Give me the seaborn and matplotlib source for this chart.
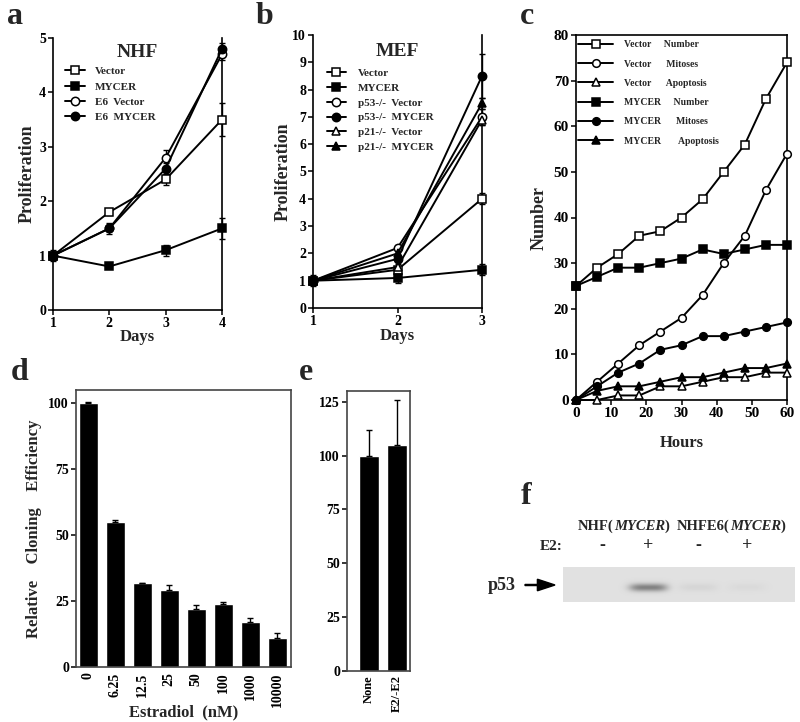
import matplotlib
matplotlib.use("Agg")
import matplotlib.pyplot as plt
import seaborn as sns
import numpy as np

# ---- panel a: NHF proliferation ----
days_a = [1, 2, 3, 4]
nhf_vector = [1.0, 1.8, 2.4, 3.5]
nhf_vector_err = [0.05, 0.05, 0.1, 0.3]
nhf_mycer = [1.0, 0.8, 1.1, 1.5]
nhf_mycer_err = [0.05, 0.03, 0.1, 0.2]
nhf_e6_vector = [1.0, 1.5, 2.8, 4.7]
nhf_e6_vector_err = [0.1, 0.1, 0.15, 0.1]
nhf_e6_mycer = [1.0, 1.5, 2.6, 4.8]
nhf_e6_mycer_err = [0.05, 0.05, 0.1, 0.1]

# ---- panel b: MEF proliferation ----
days_b = [1, 2, 3]
mef_vector = [1.0, 1.4, 4.0]
mef_vector_err = [0.1, 0.1, 0.2]
mef_mycer = [1.0, 1.1, 1.4]
mef_mycer_err = [0.2, 0.2, 0.2]
mef_p53_vector = [1.0, 2.2, 7.0]
mef_p53_vector_err = [0.1, 0.1, 0.3]
mef_p53_mycer = [1.0, 1.8, 8.5]
mef_p53_mycer_err = [0.1, 0.1, 0.8]
mef_p21_vector = [1.0, 1.5, 6.9]
mef_p21_vector_err = [0.1, 0.1, 0.2]
mef_p21_mycer = [1.0, 2.0, 7.5]
mef_p21_mycer_err = [0.1, 0.1, 0.2]

# ---- panel c: counts over time ----
hours = [0, 6, 12, 18, 24, 30, 36, 42, 48, 54, 60]
vec_number = [25, 29, 32, 36, 37, 40, 44, 50, 56, 66, 74]
vec_mitoses = [0, 4, 8, 12, 15, 18, 23, 30, 36, 46, 54]
vec_apoptosis = [0, 0, 1, 1, 3, 3, 4, 5, 5, 6, 6]
myc_number = [25, 27, 29, 29, 30, 31, 33, 32, 33, 34, 34]
myc_mitoses = [0, 3, 6, 8, 11, 12, 14, 14, 15, 16, 17]
myc_apoptosis = [0, 2, 3, 3, 4, 5, 5, 6, 7, 7, 8]

# ---- panel d: cloning efficiency vs estradiol ----
estradiol = ["0", "6.25", "12.5", "25", "50", "100", "1000", "10000"]
cloning = [100, 55, 32, 29, 22, 24, 17, 11]
cloning_err = [0.6, 0.8, 0.0, 2.0, 1.5, 0.8, 1.5, 2.0]

# ---- panel e ----
treat = ["None", "E2/-E2"]
treat_eff = [100, 105]
treat_err = [12, 21]

# ---- panel f: western blot ----
# (text, italic) pieces of the two lane-group headers
blot_header_1 = [("NHF(", False), ("MYCER", True), (")", False)]
blot_header_2 = [("NHFE6(", False), ("MYCER", True), (")", False)]
e2_signs = ["-", "+", "-", "+"]
band_intensity = [0.0, 0.62, 0.07, 0.04]

sns.set_theme(style="ticks")
plt.rcParams["font.family"] = ["Liberation Serif", "DejaVu Serif"]
plt.rcParams["font.weight"] = "bold"
plt.rcParams["axes.labelweight"] = "bold"
plt.rcParams["axes.edgecolor"] = "black"
plt.rcParams["axes.linewidth"] = 1.2
plt.rcParams["xtick.color"] = "black"
plt.rcParams["ytick.color"] = "black"

W, H = 800, 722
fig = plt.figure(figsize=(W / 100, H / 100), dpi=100)


def box(x0, y0, x1, y1):
    # pixel box (top-left origin) -> figure fraction rect
    return [x0 / W, 1 - y1 / H, (x1 - x0) / W, (y1 - y0) / H]


def line_panel(ax, x, series, msize=6):
    for label, y, err, marker, filled in series:
        if err is not None:
            ax.errorbar(x, y, yerr=err, fmt="none", ecolor="black",
                        elinewidth=1, capsize=2.5, capthick=1, zorder=2, clip_on=False)
        sns.lineplot(x=x, y=y, ax=ax, color="black", marker=marker,
                     markersize=msize, markerfacecolor="black" if filled else "white",
                     markeredgecolor="black", markeredgewidth=1.1, linewidth=1.4,
                     label=label, clip_on=False, zorder=3)


def tick_style(ax, size=10):
    ax.tick_params(axis="both", direction="out", length=3.5, width=1.1,
                   labelsize=size, pad=1.5, colors="black")


# ---------------- panel a ----------------
ax_a = fig.add_axes(box(53, 38, 222, 310))
line_panel(ax_a, days_a, [
    ("Vector", nhf_vector, nhf_vector_err, "s", False),
    ("MYCER", nhf_mycer, nhf_mycer_err, "s", True),
    ("E6  Vector", nhf_e6_vector, nhf_e6_vector_err, "o", False),
    ("E6  MYCER", nhf_e6_mycer, nhf_e6_mycer_err, "o", True),
])
ax_a.set_xlim(1, 4)
ax_a.set_ylim(0, 5)
ax_a.set_xticks([1, 2, 3, 4])
ax_a.set_yticks([0, 1, 2, 3, 4, 5])
ax_a.spines["top"].set_visible(False)
tick_style(ax_a, 10)
ax_a.set_xlabel("Days", fontsize=12)
ax_a.set_ylabel("Proliferation", fontsize=13)
ax_a.xaxis.set_label_coords(0.5, -0.07)
ax_a.yaxis.set_label_coords(-0.1, 0.5)
ax_a.legend(loc="upper left", bbox_to_anchor=(0.07, 0.895), frameon=False,
            fontsize=8, handlelength=1.8, handletextpad=0.9, labelspacing=0.5,
            borderpad=0, borderaxespad=0)
ax_a.text(0.5, 0.945, "NHF", transform=ax_a.transAxes, ha="center", va="center",
          fontsize=14, fontweight="bold")

# ---------------- panel b ----------------
ax_b = fig.add_axes(box(313, 35, 482, 308))
line_panel(ax_b, days_b, [
    ("Vector", mef_vector, mef_vector_err, "s", False),
    ("MYCER", mef_mycer, mef_mycer_err, "s", True),
    ("p53-/-  Vector", mef_p53_vector, mef_p53_vector_err, "o", False),
    ("p53-/-  MYCER", mef_p53_mycer, mef_p53_mycer_err, "o", True),
    ("p21-/-  Vector", mef_p21_vector, mef_p21_vector_err, "^", False),
    ("p21-/-  MYCER", mef_p21_mycer, mef_p21_mycer_err, "^", True),
])
ax_b.set_xlim(1, 3)
ax_b.set_ylim(0, 10)
ax_b.set_xticks([1, 2, 3])
ax_b.set_yticks(range(0, 11))
ax_b.spines["top"].set_visible(False)
tick_style(ax_b, 10)
ax_b.set_xlabel("Days", fontsize=12)
ax_b.set_ylabel("Proliferation", fontsize=13)
ax_b.xaxis.set_label_coords(0.5, -0.075)
ax_b.yaxis.set_label_coords(-0.125, 0.5)
ax_b.legend(loc="upper left", bbox_to_anchor=(0.083, 0.878), frameon=False,
            fontsize=8, handlelength=1.7, handletextpad=1.1, labelspacing=0.45,
            borderpad=0, borderaxespad=0)
ax_b.text(0.5, 0.94, "MEF", transform=ax_b.transAxes, ha="center", va="center",
          fontsize=14, fontweight="bold")

# ---------------- panel c ----------------
ax_c = fig.add_axes(box(576, 35, 787, 400))
line_panel(ax_c, hours, [
    ("Vector     Number", vec_number, None, "s", False),
    ("Vector      Mitoses", vec_mitoses, None, "o", False),
    ("Vector      Apoptosis", vec_apoptosis, None, "^", False),
    ("MYCER     Number", myc_number, None, "s", True),
    ("MYCER      Mitoses", myc_mitoses, None, "o", True),
    ("MYCER       Apoptosis", myc_apoptosis, None, "^", True),
], msize=5.5)
ax_c.set_xlim(0, 60)
ax_c.set_ylim(0, 80)
ax_c.set_xticks(range(0, 61, 10))
ax_c.set_yticks(range(0, 81, 10))
tick_style(ax_c, 11)
ax_c.set_xlabel("Hours", fontsize=12)
ax_c.set_ylabel("Number", fontsize=13)
ax_c.xaxis.set_label_coords(0.5, -0.095)
ax_c.yaxis.set_label_coords(-0.135, 0.5)
ax_c.legend(loc="upper left", bbox_to_anchor=(0.01, 0.985), frameon=False,
            fontsize=7, handlelength=3.6, handletextpad=1.1, labelspacing=1.05,
            borderpad=0, borderaxespad=0)

# ---------------- panel d ----------------
ax_d = fig.add_axes(box(76, 390, 291, 667))
sns.barplot(x=estradiol, y=cloning, ax=ax_d, color="black", width=0.7,
            saturation=1, errorbar=None)
ax_d.errorbar(range(len(cloning)), cloning, yerr=[np.zeros(len(cloning)), cloning_err],
              fmt="none", ecolor="black", elinewidth=1, capsize=2.5, capthick=1)
ax_d.set_xlim(-0.45, 7.5)
ax_d.set_ylim(0, 105)
ax_d.set_yticks([0, 25, 50, 75, 100])
tick_style(ax_d, 10)
ax_d.tick_params(axis="x", length=0, pad=4, labelrotation=90)
for s in ax_d.spines.values():
    s.set_color("#444444")
ax_d.set_xlabel("Estradiol  (nM)", fontsize=12)
ax_d.set_ylabel("Relative    Cloning    Efficiency", fontsize=12)
ax_d.xaxis.set_label_coords(0.5, -0.135)
ax_d.yaxis.set_label_coords(-0.16, 0.5)

# ---------------- panel e ----------------
ax_e = fig.add_axes(box(347, 391, 410, 671))
sns.barplot(x=treat, y=treat_eff, ax=ax_e, color="black", width=0.72,
            saturation=1, errorbar=None)
ax_e.errorbar(range(len(treat_eff)), treat_eff, yerr=[np.zeros(len(treat_eff)), treat_err],
              fmt="none", ecolor="black", elinewidth=1, capsize=2.5, capthick=1)
ax_e.set_xlim(-0.79, 1.46)
ax_e.set_ylim(0, 130)
ax_e.set_yticks([0, 25, 50, 75, 100, 125])
tick_style(ax_e, 10)
ax_e.tick_params(axis="x", length=0, pad=3, labelrotation=90, labelsize=9)
for s in ax_e.spines.values():
    s.set_color("#444444")

# ---------------- panel f ----------------
ax_f = fig.add_axes(box(563, 567, 795, 602))
lane_pos = [39, 85, 135, 184]
cols = np.arange(232)[None, :]
rows = np.arange(35)[:, None]
img = np.full((35, 232), 0.88)
for pos, val in zip(lane_pos, band_intensity):
    img -= 0.6 * val * np.exp(-(np.abs(cols - pos) / 19.0) ** 4) * np.exp(-((rows - 20) / 4.0) ** 2)
ax_f.imshow(img, cmap="gray", vmin=0, vmax=1, aspect="auto", interpolation="bilinear")
ax_f.set_axis_off()


def header(x, y, pieces, size=10.5):
    # draw pieces left to right, each anchored to the right end of the previous one
    txt, ital = pieces[0]
    prev = fig.text(x / W, 1 - y / H, txt, ha="left", va="bottom",
                    fontsize=size, style="italic" if ital else "normal")
    for txt, ital in pieces[1:]:
        prev = fig.add_artist(matplotlib.text.Annotation(
            txt, xy=(1, 0), xycoords=prev, ha="left", va="bottom",
            fontsize=size, style="italic" if ital else "normal"))


header(578, 533, blot_header_1)
header(677, 533, blot_header_2)
fig.text(540 / W, 1 - 546 / H, "E2:", ha="left", va="center", fontsize=11)
for pos, sign in zip(lane_pos, e2_signs):
    fig.text((563 + pos) / W, 1 - 546 / H, sign, ha="center", va="center", fontsize=13)
fig.text(502 / W, 1 - 585 / H, "p53", ha="center", va="center", fontsize=13)
fig.patches.append(matplotlib.patches.FancyArrow(
    525 / W, 1 - 585 / H, 30 / W, 0, width=0.0015, head_width=0.016,
    head_length=0.022, length_includes_head=True, color="black",
    transform=fig.transFigure, figure=fig))

# panel letters
for letter, x, y in [("a", 15, 17), ("b", 265, 17), ("c", 527, 17),
                     ("d", 20, 372), ("e", 306, 372), ("f", 526, 497)]:
    fig.text(x / W, 1 - y / H, letter, ha="center", va="center", fontsize=23, fontweight="bold")

fig.savefig("out.png", dpi=100)
plt.close(fig)
